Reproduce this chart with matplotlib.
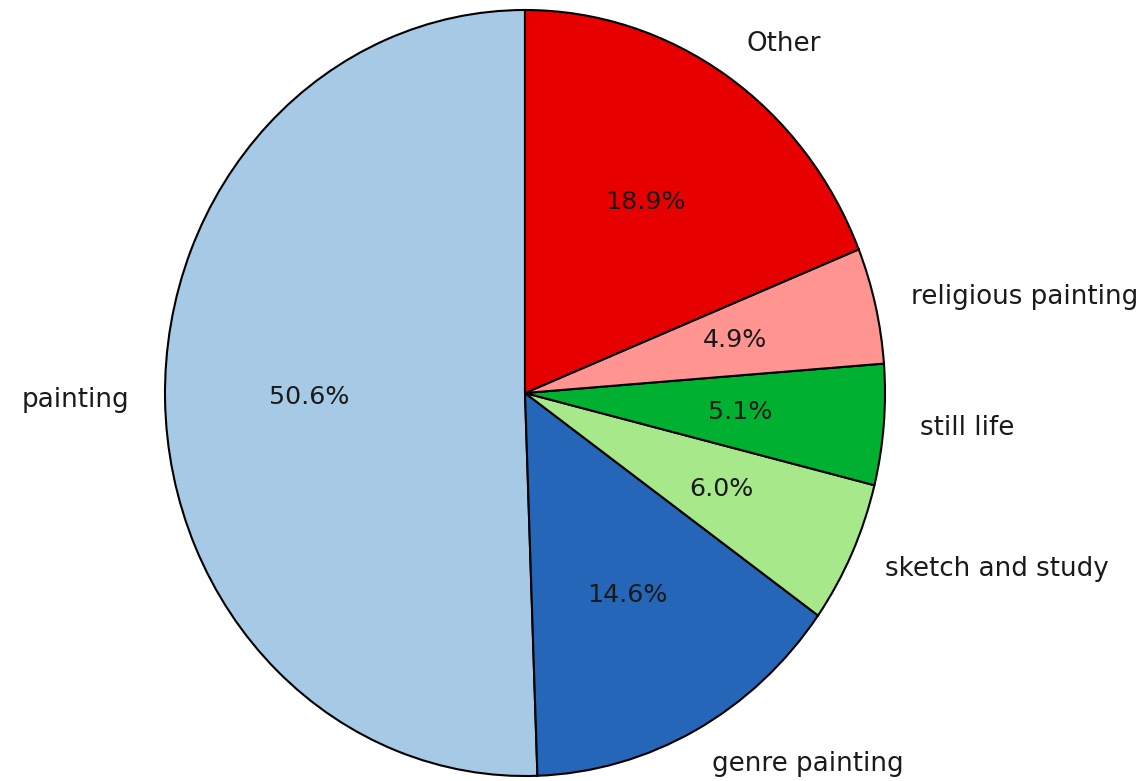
import matplotlib
matplotlib.use("Agg")
import matplotlib.pyplot as plt

labels = ["painting", "genre painting", "sketch and study", "still life",
          "religious painting", "Other"]
shares = [50.6, 14.6, 6.0, 5.1, 4.9, 18.9]
colors = ["#a6cae6", "#2566b8", "#a6e88a", "#00b030", "#ff9490", "#e60000"]

share_iter = iter(shares)


def pct_label(_pct):
    return f"{next(share_iter):.1f}%"


fig = plt.figure(figsize=(11.42, 7.81), dpi=100)
ax = fig.add_axes([0, 0, 1, 1])
wedges, texts, autotexts = ax.pie(
    shares, labels=labels, colors=colors, autopct=pct_label,
    startangle=90, counterclock=True,
    wedgeprops=dict(edgecolor="black", linewidth=1.5),
    textprops=dict(fontsize=18.8, color="#1a1a1a"))
for t in autotexts:
    t.set_fontsize(18.2)
ax.set_aspect("auto")
ax.set_xlim(-525 / 360, (1142 - 525) / 360)
ax.set_ylim(-(781 - 393) / 383, 393 / 383)
ax.axis("off")
fig.savefig("out.png", dpi=100)
